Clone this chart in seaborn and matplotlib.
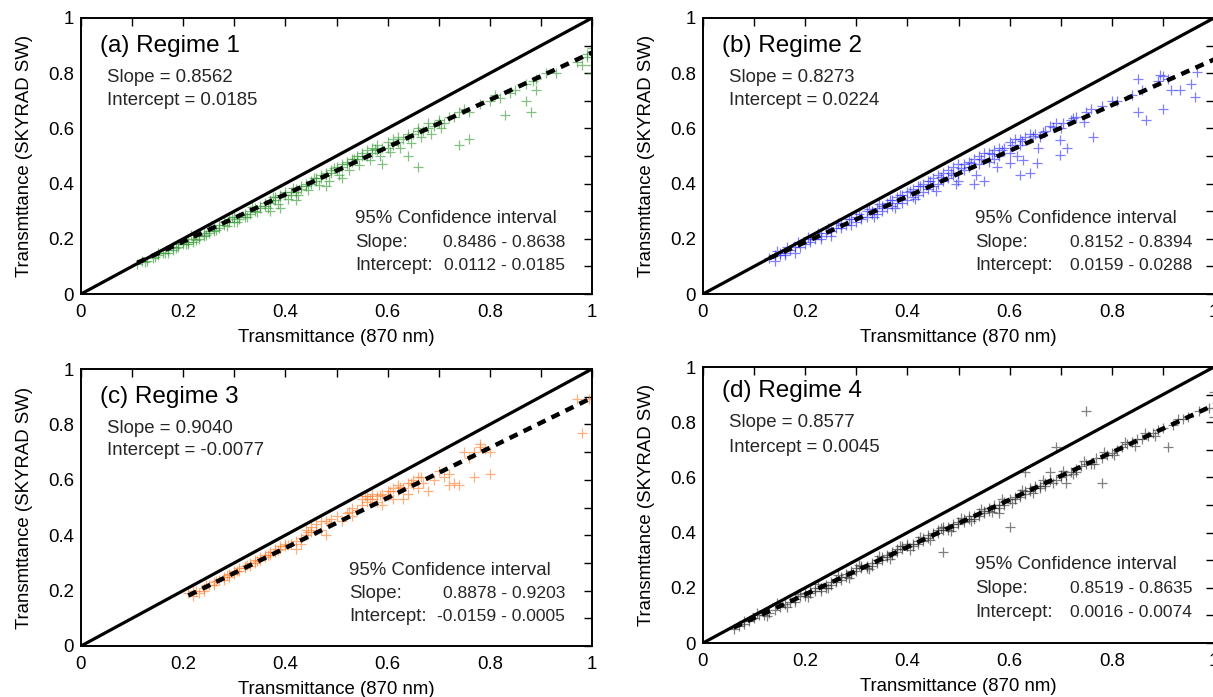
import matplotlib
matplotlib.use("Agg")
import matplotlib.pyplot as plt
import seaborn as sns
import numpy as np
from matplotlib.ticker import MultipleLocator

sns.set_theme(style="white")
plt.rcParams['font.family'] = ['Liberation Sans', 'DejaVu Sans']

# ---------------- data ----------------
regimes = ["(a) Regime 1", "(b) Regime 2", "(c) Regime 3", "(d) Regime 4"]
slopes = [0.8562, 0.8273, 0.9040, 0.8577]
intercepts = [0.0185, 0.0224, -0.0077, 0.0045]
slope_ci = ["0.8486 - 0.8638", "0.8152 - 0.8394", "0.8878 - 0.9203", "0.8519 - 0.8635"]
intercept_ci = ["0.0112 - 0.0185", "0.0159 - 0.0288", "-0.0159 - 0.0005", "0.0016 - 0.0074"]
fit_start = [0.11, 0.13, 0.21, 0.06]
colors = ["#2f962f", "#2a2aff", "#ff7a26", "#2b2b2b"]

tick_values = [0, 0.2, 0.4, 0.6, 0.8, 1.0]
tick_labels = ["0", "0.2", "0.4", "0.6", "0.8", "1"]

a_x = [0.11,0.12,0.13,0.14,0.15,0.15,0.16,0.17,0.17,0.18,
       0.18,0.19,0.19,0.20,0.20,0.21,0.21,0.22,0.22,0.23,
       0.23,0.24,0.24,0.25,0.25,0.26,0.26,0.27,0.27,0.28,
       0.28,0.29,0.29,0.30,0.30,0.31,0.31,0.32,0.32,0.33,
       0.33,0.34,0.34,0.35,0.35,0.36,0.36,0.37,0.37,0.38,
       0.38,0.39,0.39,0.40,0.40,0.41,0.41,0.42,0.42,0.43,
       0.43,0.44,0.44,0.45,0.45,0.46,0.46,0.47,0.47,0.48,
       0.48,0.49,0.49,0.50,0.50,0.51,0.51,0.52,0.52,0.53,
       0.53,0.54,0.54,0.55,0.55,0.56,0.56,0.57,0.57,0.58,
       0.58,0.59,0.60,0.60,0.61,0.61,0.62,0.62,0.63,0.64,
       0.64,0.65,0.66,0.66,0.67,0.68,0.68,0.69,0.70,0.70,
       0.71,0.72,0.73,0.74,0.75,0.76,0.78,0.80,0.81,0.82,
       0.84,0.85,0.87,0.89,0.91,0.93,0.97,0.98,0.99,0.99,
       1.00,1.00,1.00,0.37,0.39,0.42,0.48,0.51,0.66,0.74,
       0.76,0.83,0.88,0.87,0.89,0.64,0.59,0.885,
       0.125,0.145,0.165,0.185,0.205,0.225,0.245,0.265,0.285,0.305,
       0.325,0.345,0.365,0.385,0.405,0.425,0.445,0.465,0.485,0.505,
       0.525,0.545,0.565,0.585,0.605,0.625,0.645,0.665,0.685,0.705,
       0.215,0.255,0.295,0.335,0.375,0.415,0.455,0.495,0.535,0.575]
a_y = [0.11,0.12,0.12,0.13,0.15,0.14,0.15,0.16,0.15,0.17,
       0.16,0.18,0.17,0.18,0.19,0.19,0.18,0.20,0.19,0.20,
       0.21,0.21,0.22,0.22,0.23,0.23,0.24,0.24,0.25,0.25,
       0.26,0.26,0.27,0.26,0.28,0.28,0.27,0.29,0.28,0.30,
       0.29,0.31,0.30,0.31,0.32,0.32,0.33,0.33,0.34,0.34,
       0.35,0.35,0.36,0.36,0.37,0.37,0.36,0.38,0.37,0.39,
       0.38,0.39,0.40,0.40,0.41,0.41,0.42,0.42,0.43,0.43,
       0.44,0.44,0.45,0.45,0.46,0.46,0.47,0.47,0.48,0.48,
       0.49,0.49,0.50,0.50,0.51,0.50,0.52,0.51,0.53,0.52,
       0.54,0.53,0.53,0.55,0.54,0.56,0.55,0.57,0.56,0.57,
       0.58,0.58,0.59,0.60,0.59,0.60,0.62,0.61,0.62,0.63,
       0.62,0.64,0.64,0.66,0.67,0.66,0.69,0.70,0.72,0.71,
       0.73,0.74,0.76,0.78,0.80,0.80,0.84,0.83,0.87,0.86,
       0.89,0.80,0.83,0.30,0.31,0.34,0.39,0.42,0.46,0.54,
       0.56,0.65,0.66,0.70,0.74,0.50,0.47,0.77,
       0.115,0.135,0.150,0.165,0.180,0.197,0.213,0.232,0.246,0.262,
       0.280,0.296,0.312,0.327,0.345,0.360,0.378,0.395,0.410,0.430,
       0.448,0.466,0.485,0.500,0.515,0.530,0.548,0.570,0.580,0.600,
       0.212,0.245,0.280,0.315,0.350,0.385,0.420,0.455,0.490,0.525]

b_x = [0.13,0.14,0.14,0.15,0.15,0.16,0.16,0.17,0.18,0.18,
       0.19,0.20,0.21,0.21,0.22,0.23,0.23,0.24,0.25,0.25,
       0.26,0.27,0.27,0.28,0.29,0.29,0.30,0.30,0.31,0.31,
       0.32,0.32,0.33,0.33,0.34,0.34,0.35,0.35,0.36,0.36,
       0.37,0.37,0.38,0.38,0.39,0.39,0.40,0.40,0.41,0.41,
       0.42,0.42,0.43,0.43,0.44,0.44,0.45,0.45,0.46,0.46,
       0.47,0.47,0.48,0.48,0.49,0.49,0.50,0.50,0.51,0.51,
       0.52,0.52,0.53,0.53,0.54,0.54,0.55,0.55,0.56,0.56,
       0.57,0.57,0.58,0.58,0.59,0.60,0.60,0.61,0.62,0.62,
       0.63,0.64,0.65,0.66,0.67,0.68,0.69,0.70,0.72,0.73,
       0.75,0.76,0.78,0.80,0.81,0.84,0.86,0.89,0.90,0.91,
       0.763,0.699,0.712,0.699,0.852,0.866,0.901,0.963,0.934,0.915,
       0.955,0.966,0.894,0.852,0.627,0.653,0.620,0.640,0.600,0.50,
       0.145,0.165,0.185,0.205,0.225,0.245,0.265,0.285,0.305,0.325,
       0.345,0.365,0.385,0.405,0.425,0.445,0.465,0.485,0.505,0.525,
       0.545,0.565,0.585,0.605,0.625,0.645,0.665,0.685,0.705,0.725,
       0.335,0.375,0.415,0.455,0.495,0.535,0.575,0.615,0.655,0.745]
b_y = [0.13,0.12,0.14,0.14,0.15,0.15,0.14,0.16,0.17,0.15,
       0.17,0.18,0.20,0.19,0.20,0.21,0.20,0.22,0.23,0.21,
       0.24,0.24,0.25,0.25,0.27,0.25,0.28,0.26,0.28,0.27,
       0.30,0.28,0.30,0.29,0.31,0.29,0.32,0.30,0.33,0.31,
       0.34,0.32,0.35,0.33,0.36,0.33,0.37,0.34,0.38,0.35,
       0.39,0.36,0.40,0.37,0.41,0.38,0.42,0.39,0.43,0.40,
       0.44,0.41,0.45,0.42,0.46,0.43,0.47,0.44,0.47,0.45,
       0.48,0.46,0.49,0.40,0.50,0.47,0.51,0.41,0.51,0.48,
       0.52,0.49,0.53,0.50,0.53,0.55,0.51,0.56,0.56,0.54,
       0.57,0.58,0.58,0.57,0.59,0.61,0.62,0.60,0.63,0.64,
       0.66,0.67,0.68,0.70,0.70,0.72,0.74,0.77,0.79,0.78,
       0.569,0.558,0.528,0.504,0.661,0.630,0.670,0.715,0.739,0.739,
       0.760,0.805,0.793,0.780,0.485,0.473,0.431,0.440,0.474,0.41,
       0.155,0.172,0.190,0.207,0.222,0.240,0.258,0.272,0.290,0.308,
       0.325,0.340,0.357,0.374,0.390,0.408,0.424,0.440,0.457,0.474,
       0.490,0.506,0.522,0.540,0.556,0.572,0.588,0.604,0.620,0.638,
       0.280,0.310,0.345,0.375,0.400,0.430,0.460,0.500,0.530,0.625]

c_x = [0.21,0.22,0.22,0.23,0.24,0.24,0.25,0.26,0.26,0.27,
       0.28,0.28,0.29,0.29,0.30,0.30,0.31,0.31,0.32,0.32,
       0.33,0.33,0.34,0.34,0.35,0.35,0.36,0.36,0.37,0.37,
       0.38,0.38,0.39,0.39,0.40,0.40,0.41,0.42,0.42,0.43,
       0.43,0.44,0.44,0.45,0.45,0.46,0.46,0.47,0.47,0.48,
       0.48,0.49,0.50,0.51,0.52,0.53,0.53,0.54,0.55,0.55,
       0.56,0.56,0.57,0.57,0.58,0.58,0.59,0.59,0.60,0.60,
       0.61,0.61,0.62,0.62,0.63,0.63,0.64,0.64,0.65,0.65,
       0.66,0.66,0.67,0.68,0.69,0.70,0.71,0.72,0.72,0.73,
       0.74,0.75,0.76,0.77,0.77,0.78,0.78,0.79,0.80,0.80,
       0.97,0.98,0.995,
       0.225,0.245,0.265,0.285,0.305,0.325,0.345,0.365,0.385,0.405,
       0.445,0.485,0.525,0.565,0.585,0.605,0.625,0.645,0.665,0.555]
c_y = [0.19,0.18,0.20,0.19,0.21,0.20,0.22,0.22,0.23,0.24,
       0.24,0.25,0.26,0.25,0.27,0.26,0.27,0.28,0.28,0.29,
       0.29,0.30,0.31,0.30,0.31,0.32,0.32,0.33,0.33,0.34,
       0.34,0.35,0.35,0.36,0.36,0.37,0.37,0.38,0.35,0.39,
       0.37,0.40,0.42,0.41,0.43,0.42,0.44,0.45,0.42,0.45,
       0.40,0.46,0.47,0.45,0.48,0.50,0.47,0.49,0.51,0.53,
       0.52,0.54,0.53,0.55,0.54,0.52,0.55,0.51,0.56,0.54,
       0.57,0.53,0.56,0.58,0.57,0.53,0.59,0.55,0.60,0.58,
       0.61,0.57,0.59,0.56,0.60,0.63,0.61,0.62,0.58,0.59,
       0.58,0.70,0.68,0.70,0.61,0.72,0.73,0.71,0.62,0.70,
       0.89,0.77,0.89,
       0.200,0.222,0.236,0.256,0.272,0.292,0.308,0.330,0.345,0.365,
       0.410,0.445,0.485,0.530,0.545,0.560,0.575,0.590,0.610,0.540]

d_x = [0.06,0.07,0.08,0.08,0.09,0.10,0.11,0.12,0.13,0.14,
       0.15,0.16,0.17,0.18,0.18,0.19,0.20,0.20,0.21,0.21,
       0.22,0.22,0.23,0.23,0.24,0.24,0.25,0.25,0.26,0.26,
       0.27,0.27,0.28,0.28,0.29,0.29,0.30,0.30,0.31,0.31,
       0.32,0.32,0.33,0.33,0.34,0.34,0.35,0.35,0.36,0.36,
       0.37,0.37,0.38,0.38,0.39,0.39,0.40,0.40,0.41,0.41,
       0.42,0.42,0.43,0.43,0.44,0.44,0.45,0.45,0.46,0.46,
       0.47,0.47,0.47,0.48,0.48,0.49,0.49,0.50,0.50,0.51,
       0.51,0.52,0.52,0.53,0.53,0.54,0.54,0.55,0.55,0.56,
       0.56,0.57,0.57,0.58,0.58,0.59,0.59,0.60,0.60,0.61,
       0.61,0.62,0.62,0.63,0.63,0.64,0.64,0.65,0.65,0.66,
       0.66,0.67,0.67,0.68,0.68,0.69,0.70,0.70,0.71,0.71,
       0.72,0.73,0.73,0.74,0.75,0.75,0.76,0.77,0.78,0.78,
       0.79,0.80,0.81,0.82,0.83,0.84,0.85,0.86,0.87,0.88,
       0.89,0.90,0.91,0.92,0.93,0.94,0.95,0.97,0.99,1.00,
       1.00,0.69,0.63,0.58,
       0.105,0.125,0.145,0.165,0.185,0.205,0.225,0.245,0.265,0.285,
       0.305,0.325,0.345,0.365,0.385,0.405,0.425,0.445,0.465,0.485,
       0.505,0.525,0.545,0.565,0.585,0.605,0.625,0.645,0.665,0.685,
       0.705,0.725,0.745,0.765,0.785,0.805,0.825,0.845,0.865,0.885]
d_y = [0.05,0.06,0.07,0.08,0.08,0.09,0.10,0.10,0.11,0.12,
       0.13,0.14,0.15,0.16,0.15,0.17,0.18,0.17,0.18,0.19,
       0.19,0.20,0.20,0.19,0.21,0.20,0.22,0.21,0.23,0.22,
       0.23,0.24,0.24,0.25,0.25,0.26,0.26,0.27,0.27,0.28,
       0.28,0.27,0.29,0.28,0.30,0.29,0.30,0.31,0.31,0.32,
       0.32,0.33,0.33,0.34,0.34,0.35,0.35,0.36,0.36,0.35,
       0.37,0.36,0.38,0.37,0.38,0.39,0.39,0.40,0.40,0.41,
       0.41,0.42,0.33,0.42,0.41,0.43,0.42,0.44,0.43,0.44,
       0.45,0.45,0.46,0.46,0.45,0.47,0.46,0.48,0.47,0.49,
       0.48,0.49,0.50,0.50,0.49,0.51,0.50,0.52,0.42,0.53,
       0.52,0.54,0.53,0.55,0.54,0.55,0.56,0.56,0.57,0.57,
       0.56,0.58,0.57,0.59,0.62,0.59,0.60,0.61,0.61,0.58,
       0.62,0.63,0.62,0.64,0.65,0.84,0.65,0.67,0.67,0.58,
       0.68,0.69,0.70,0.71,0.72,0.73,0.74,0.74,0.75,0.76,
       0.77,0.78,0.71,0.79,0.81,0.81,0.82,0.84,0.85,0.91,
       0.82,0.71,0.62,0.47,
       0.110,0.098,0.144,0.132,0.178,0.166,0.212,0.200,0.247,0.235,
       0.281,0.269,0.315,0.303,0.350,0.338,0.384,0.372,0.418,0.406,
       0.453,0.441,0.487,0.475,0.521,0.509,0.556,0.544,0.590,0.578,
       0.624,0.612,0.659,0.647,0.693,0.681,0.727,0.715,0.761,0.749]

series_x = [a_x, b_x, c_x, d_x]
series_y = [a_y, b_y, c_y, d_y]

# ---------------- layout ----------------
W, H = 1213, 697
fig = plt.figure(figsize=(W / 100, H / 100), dpi=100)
fig.patch.set_facecolor("white")

# (left, top, width, height) in pixels
boxes = [(81, 18, 511, 276), (703, 18, 511, 276), (81, 369, 511, 277), (703, 367, 511, 276)]
title_y = [0.90, 0.90, 0.90, 0.913]
slope_y = [0.783, 0.783, 0.787, 0.80]
icpt_y = [0.700, 0.700, 0.704, 0.707]
ci_left = [0.536, 0.532, 0.524, 0.532]
ci_right = [0.947, 0.957, 0.947, 0.957]
ci_y = [(0.275, 0.187, 0.103), (0.275, 0.188, 0.105), (0.274, 0.188, 0.105), (0.283, 0.196, 0.112)]

FS = 13.4
FV = 12.6
for i in range(4):
    l, t, w, h = boxes[i]
    ax = fig.add_axes([l / W, 1 - (t + h) / H, w / W, h / H])
    ax.set_facecolor("white")

    sns.scatterplot(x=series_x[i], y=series_y[i], marker="+", color=colors[i],
                    s=60, linewidth=0.9, alpha=0.6, ax=ax, legend=False, zorder=2)
    sns.lineplot(x=[0, 1], y=[0, 1], color="black", linewidth=2.3, ax=ax, zorder=3)
    fx = np.array([fit_start[i], 1.0])
    ax.plot(fx, slopes[i] * fx + intercepts[i], color="black", linewidth=3.2,
            dashes=(2.0, 1.5), zorder=4)

    ax.set_xlim(0, 1)
    ax.set_ylim(0, 1)
    ax.set_xticks(tick_values)
    ax.set_xticklabels(tick_labels)
    ax.set_yticks(tick_values)
    ax.set_yticklabels(tick_labels)
    ax.xaxis.set_minor_locator(MultipleLocator(0.1))
    ax.yaxis.set_minor_locator(MultipleLocator(0.1))
    ax.tick_params(which="both", direction="in", top=True, right=True,
                   length=6, width=1.0, color="black", labelsize=FS,
                   labelcolor="black")
    ax.tick_params(axis="x", which="major", pad=7)
    ax.tick_params(axis="y", which="major", pad=5)
    for sp in ax.spines.values():
        sp.set_color("black")
        sp.set_linewidth(1.4)

    ax.set_xlabel("Transmittance (870 nm)", fontsize=FS, color="black", labelpad=6)
    ax.set_ylabel("Transmttance (SKYRAD SW)", fontsize=FS, color="black", labelpad=11)

    ax.text(0.037, title_y[i], regimes[i], fontsize=17.5, va="center", ha="left", color="black")
    ax.text(0.050, slope_y[i], f"Slope = {slopes[i]:.4f}", fontsize=FS, va="center", ha="left")
    ax.text(0.050, icpt_y[i], f"Intercept = {intercepts[i]:.4f}", fontsize=FS, va="center", ha="left")

    y0, y1, y2 = ci_y[i]
    ax.text(ci_left[i], y0, "95% Confidence interval", fontsize=FS, va="center", ha="left")
    ax.text(ci_left[i], y1, "Slope:", fontsize=FS, va="center", ha="left")
    ax.text(ci_right[i], y1, slope_ci[i], fontsize=FV, va="center", ha="right")
    ax.text(ci_left[i], y2, "Intercept:", fontsize=FS, va="center", ha="left")
    ax.text(ci_right[i], y2, intercept_ci[i], fontsize=FV, va="center", ha="right")

fig.savefig("out.png", dpi=100, facecolor="white")
